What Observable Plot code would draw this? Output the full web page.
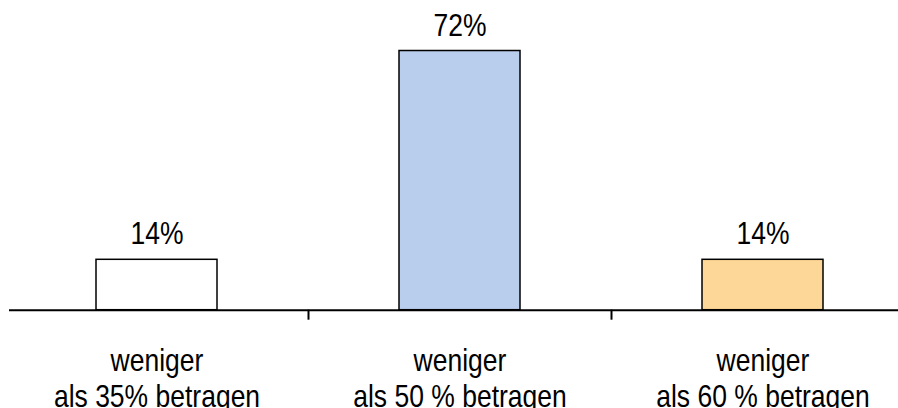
<!DOCTYPE html>
<html>
<head>
<meta charset="utf-8">
<script src="https://cdn.jsdelivr.net/npm/d3@7"></script>
<script src="https://cdn.jsdelivr.net/npm/@observablehq/plot@0.6"></script>
<style>
  html, body { margin: 0; padding: 0; background: #fff; }
  svg { display: block; }
</style>
</head>
<body>
<div id="chart"></div>
<script>
const categories = ["weniger\nals 35% betragen", "weniger\nals 50 % betragen", "weniger\nals 60 % betragen"];
const values = [14, 72, 14];
const valueLabels = ["14%", "72%", "14%"];
const colors = ["#ffffff", "#b9cdec", "#fdd797"];

const data = categories.map((c, i) => ({category: c, value: values[i], label: valueLabels[i], color: colors[i]}));

const xOpts = {type: "band", domain: categories, range: [5.5, 914.5], paddingInner: 0.6, paddingOuter: 0.3};
const xs = Plot.scale({x: xOpts});
const step = xs.step ?? (914.5 - 5.5) / categories.length;

const font = "Liberation Sans, Arial, sans-serif";
const fs = 26.5;
const stretch = 1.15;

const chart = Plot.plot({
  width: 898,
  height: 408,
  marginTop: 0,
  marginLeft: 9,
  marginRight: 0,
  marginBottom: 98.3,
  style: {fontFamily: font, background: "#fff"},
  x: {...xOpts, axis: null},
  y: {domain: [0, 86.03], axis: null},
  marks: [
    Plot.barY(data, {x: "category", y: "value", fill: "color", stroke: "#000", strokeWidth: 1.5}),
    Plot.ruleY([0], {stroke: "#000", strokeWidth: 2}),
    Plot.axisX(categories.slice(1), {tickSize: 10, dx: -step / 2, tickFormat: () => "", stroke: "#000", strokeWidth: 2, label: null}),
    Plot.text(data, {x: "category", y: "value", text: "label", lineAnchor: "bottom", dy: -15.5, fontSize: fs, fill: "#000"}),
    Plot.text(data, {x: "category", y: 0, text: "category", lineAnchor: "top", dy: 35.7, fontSize: fs, lineHeight: 1.18, fill: "#000"})
  ]
});
// slightly taller glyphs, like the reference's font rendering
d3.select(chart).selectAll('g[aria-label="text"] text').each(function() {
  const t = this.getAttribute("transform") || "";
  this.setAttribute("transform", t + ` scale(1,${stretch})`);
});
document.getElementById("chart").appendChild(chart);
</script>
</body>
</html>
